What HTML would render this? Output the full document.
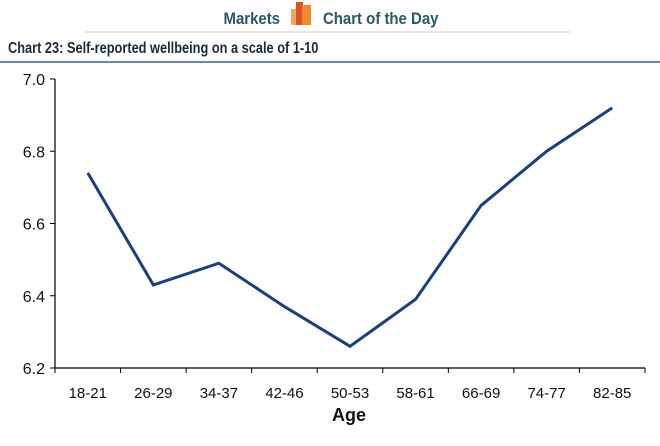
<!DOCTYPE html>
<html><head><meta charset="utf-8"><style>
body{margin:0;background:#fff;width:660px;height:441px;overflow:hidden;font-family:"Liberation Sans",sans-serif}
</style></head><body>
<svg width="660" height="441">
<text x="280" y="24" text-anchor="end" font-size="17" font-weight="bold" fill="#2d5566" transform="scale(0.88,1)" style="transform-origin:280px 0">Markets</text>
<g>
<rect x="291" y="9" width="7" height="16" fill="#f0a860"/>
<rect x="296" y="2" width="7" height="23" fill="#d9542a"/>
<rect x="302" y="5" width="9" height="20" fill="#f08a30"/>
</g>
<text x="323" y="24" font-size="17" font-weight="bold" fill="#2d5566" transform="scale(0.88,1)" style="transform-origin:323px 0">Chart of the Day</text>
<line x1="85" y1="32" x2="570" y2="32" stroke="#e8c4bc" stroke-width="1"/>
<text x="8" y="53" font-size="16" font-weight="bold" fill="#1a2a3a" transform="scale(0.8,1)" style="transform-origin:8px 0">Chart 23: Self-reported wellbeing on a scale of 1-10</text>
<line x1="0" y1="62" x2="660" y2="62" stroke="#6a88aa" stroke-width="2"/>
<g id="plot"></g>
</svg>
<script>
const categories=["18-21","26-29","34-37","42-46","50-53","58-61","66-69","74-77","82-85"];
const values=[6.74,6.43,6.49,6.37,6.26,6.39,6.65,6.80,6.92];
const yTicks=[6.2,6.4,6.6,6.8,7.0];
const ns="http://www.w3.org/2000/svg";
const g=document.getElementById('plot');
const X0=55,X1=645,Y0=368,Y1=79,ymin=6.2,ymax=7.0;
const step=(X1-X0)/categories.length;
const xc=i=>X0+step*(i+0.5);
const y=v=>Y0-(v-ymin)/(ymax-ymin)*(Y0-Y1);
function el(t,a){const e=document.createElementNS(ns,t);for(const k in a)e.setAttribute(k,a[k]);g.appendChild(e);return e;}
let ax=el('line',{x1:X0,y1:Y1,x2:X0,y2:Y0,stroke:'#000','stroke-width':1.2});


let bx=el('line',{x1:X0,y1:Y0,x2:X1,y2:Y0,stroke:'#000','stroke-width':1.2});


yTicks.forEach(v=>{
 const t=el('line',{x1:X0-5,y1:y(v),x2:X0,y2:y(v),stroke:'#000'});
 
 
 const l=el('text',{x:X0-10,y:y(v)+6,'text-anchor':'end','font-size':16,fill:'#111'});
 l.textContent=v.toFixed(1);
 
 
});
for(let i=0;i<=categories.length;i++){
 const t=el('line',{x1:X0+step*i,y1:Y0,x2:X0+step*i,y2:Y0+5,stroke:'#000'});
 
 
}
categories.forEach((c,i)=>{
 const l=el('text',{x:xc(i),y:Y0+30,'text-anchor':'middle','font-size':15,fill:'#111'});
 l.textContent=c;
 
 
});
const at=el('text',{x:X0+(X1-X0)/2-1,y:Y0+53,'text-anchor':'middle','font-size':18,'font-weight':'bold',fill:'#111'});
at.textContent='Age';


const p=el('polyline',{points:values.map((v,i)=>xc(i)+','+y(v)).join(' '),fill:'none',stroke:'#1a3f7a','stroke-width':3,'stroke-linejoin':'miter'});


</script>
</body></html>
